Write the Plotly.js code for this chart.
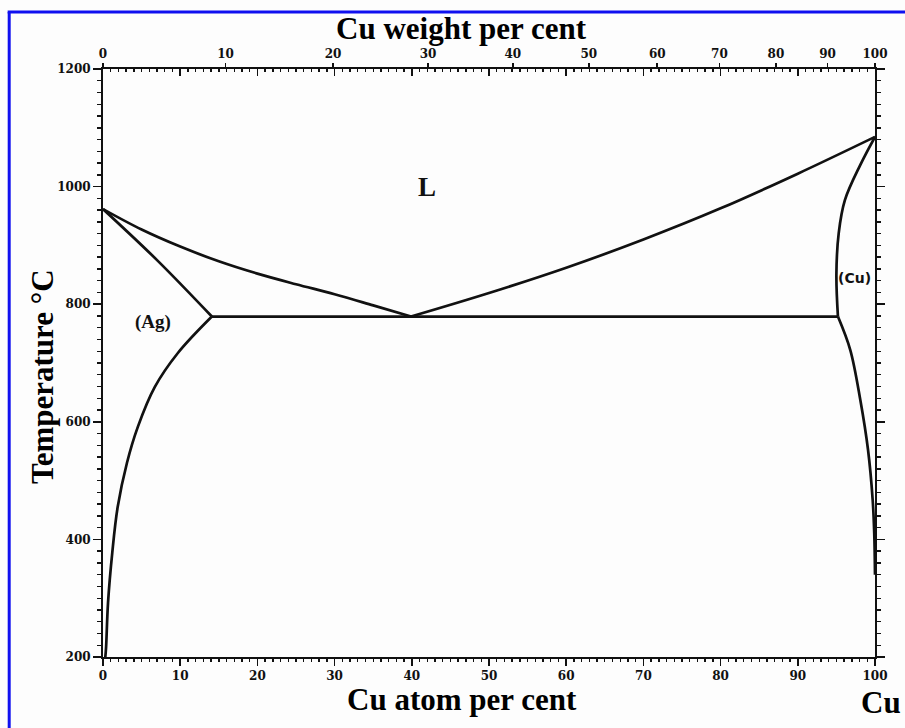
<!DOCTYPE html>
<html>
<head>
<meta charset="utf-8">
<script src="https://cdn.plot.ly/plotly-3.0.1.min.js"></script>
<style>html,body{margin:0;padding:0;background:#fff;}#chart{width:905px;height:728px;}</style>
</head>
<body>
<div id="chart"></div>
<script>
// ---- Data (atomic % Cu, temperature °C) ----
const liquidusAgX = [0, 5, 10, 15, 20, 25, 30, 35, 39.9];
const liquidusAgT = [961.8, 927, 898, 873, 852, 834, 817, 798, 779];

const solidusAgX = [0, 7, 14.1];
const solidusAgT = [961.8, 875, 779];

const solvusAgX = [14.1, 9.7, 6.7, 4.5, 3.1, 1.9, 1.2, 0.65, 0.4, 0.3];
const solvusAgT = [779, 717, 659, 591, 530, 455, 377, 292, 217, 200];

const eutecticX = [14.1, 95.2];
const eutecticT = [779, 779];

const liquidusCuX = [39.9, 50, 60, 70, 80, 90, 100];
const liquidusCuT = [779, 819, 862, 910, 963, 1022, 1084.6];

const solidusCuX = [100, 98.1, 96.1, 95.3, 95.0, 95.2];
const solidusCuT = [1084.6, 1037, 977, 921, 850, 779];

const solvusCuX = [95.2, 96.8, 98.1, 99.1, 99.7, 99.9, 100];
const solvusCuT = [779, 722, 637, 552, 467, 411, 340];

// axis ticks
const atomTicks = [0, 10, 20, 30, 40, 50, 60, 70, 80, 90, 100];
const weightTicks = [0, 10, 20, 30, 40, 50, 60, 70, 80, 90, 100];
const tempTicks = [200, 400, 600, 800, 1000, 1200];

const MASS_CU = 63.546, MASS_AG = 107.868;
function wtToAt(w) {
  const nCu = w / MASS_CU, nAg = (100 - w) / MASS_AG;
  return 100 * nCu / (nCu + nAg);
}
const weightTickPos = weightTicks.map(wtToAt);

const lineStyle = {color: '#111', width: 2.7, shape: 'spline', smoothing: 1};
function curve(x, y, shape) {
  const l = Object.assign({}, lineStyle);
  if (shape) l.shape = shape;
  return {x: x, y: y, type: 'scatter', mode: 'lines', line: l, hoverinfo: 'skip', showlegend: false};
}

const traces = [
  curve(liquidusAgX, liquidusAgT),
  curve(solidusAgX, solidusAgT),
  curve(solvusAgX, solvusAgT),
  curve(eutecticX, eutecticT, 'linear'),
  curve(liquidusCuX, liquidusCuT),
  curve(solidusCuX, solidusCuT),
  curve(solvusCuX, solvusCuT),
  {x: [], y: [], type: 'scatter', xaxis: 'x2', yaxis: 'y', showlegend: false},
  {x: [], y: [], type: 'scatter', xaxis: 'x3', yaxis: 'y', showlegend: false}
];

const tickFont = {family: 'DejaVu Serif', size: 12, color: '#111', weight: 'bold'};
const titleFont = {family: 'Liberation Serif', size: 31, color: '#000', weight: 'bold'};

const layout = {
  width: 905, height: 728,
  margin: {l: 103, r: 30, t: 69, b: 71},
  paper_bgcolor: '#fdfdfd',
  plot_bgcolor: '#fdfdfd',
  showlegend: false,
  xaxis: {
    range: [0, 100], tickvals: atomTicks, ticktext: atomTicks.map(String),
    ticks: 'outside', ticklen: 7, tickwidth: 1.6, tickcolor: '#111',
    minor: {dtick: 1, tick0: 0, ticks: 'outside', ticklen: 3, tickwidth: 1.4, tickcolor: '#111'},
    showline: true, linewidth: 2, linecolor: '#111', showgrid: false, zeroline: false,
    tickfont: tickFont, fixedrange: true
  },
  xaxis3: {
    overlaying: 'x', side: 'top', anchor: 'y', range: [0, 100],
    tickvals: atomTicks, showticklabels: false,
    ticks: 'inside', ticklen: 7, tickwidth: 1.6, tickcolor: '#111',
    minor: {dtick: 1, tick0: 0, ticks: 'inside', ticklen: 3, tickwidth: 1.4, tickcolor: '#111'},
    showline: true, linewidth: 2, linecolor: '#111', showgrid: false, zeroline: false, fixedrange: true
  },
  xaxis2: {
    overlaying: 'x', side: 'top', anchor: 'y', range: [0, 100],
    tickvals: weightTickPos, ticktext: weightTicks.map(String),
    ticks: 'outside', ticklen: 5, tickwidth: 1.6, tickcolor: '#111',
    showline: false, showgrid: false, zeroline: false,
    tickfont: tickFont, fixedrange: true
  },
  yaxis: {
    range: [200, 1200], tickvals: tempTicks, ticktext: tempTicks.map(String),
    ticks: 'outside', ticklen: 8, tickwidth: 1.6, tickcolor: '#111',
    minor: {dtick: 20, tick0: 200, ticks: 'outside', ticklen: 4, tickwidth: 1.4, tickcolor: '#111'},
    showline: true, linewidth: 2, linecolor: '#111', mirror: 'ticks',
    showgrid: false, zeroline: false, tickfont: tickFont, fixedrange: true
  },
  annotations: [
    {xref: 'paper', yref: 'paper', x: 0.465, y: 1.0697, text: 'Cu weight per cent', showarrow: false,
     xanchor: 'center', yanchor: 'middle', font: titleFont},
    {xref: 'paper', yref: 'paper', x: 0.465, y: -0.073, text: 'Cu atom per cent', showarrow: false,
     xanchor: 'center', yanchor: 'middle', font: titleFont},
    {xref: 'paper', yref: 'paper', x: 1.008, y: -0.078, text: 'Cu', showarrow: false,
     xanchor: 'center', yanchor: 'middle', font: titleFont},
    {xref: 'paper', yref: 'paper', x: -0.079, y: 0.476, text: 'Temperature °C', showarrow: false,
     textangle: -90, xanchor: 'center', yanchor: 'middle', font: titleFont},
    {x: 42, y: 999, text: 'L', showarrow: false, font: {family: 'Liberation Serif', size: 27, color: '#111', weight: 'bold'}},
    {x: 6.5, y: 770, text: '(Ag)', showarrow: false, font: {family: 'Liberation Serif', size: 19, color: '#111', weight: 'bold'}},
    {x: 97.4, y: 845, text: '(Cu)', showarrow: false, font: {family: 'DejaVu Sans', size: 14, color: '#111', weight: 'bold'}}
  ],
  shapes: [
    {type: 'line', xref: 'paper', yref: 'paper', x0: -0.1215, x1: -0.1215, y0: 1.097, y1: -0.13,
     line: {color: '#1010f0', width: 3}},
    {type: 'line', xref: 'paper', yref: 'paper', x0: -0.1235, x1: 1.05, y0: 1.097, y1: 1.097,
     line: {color: '#1010f0', width: 3}}
  ]
};

Plotly.newPlot('chart', traces, layout, {displayModeBar: false, staticPlot: true});
</script>
</body>
</html>
